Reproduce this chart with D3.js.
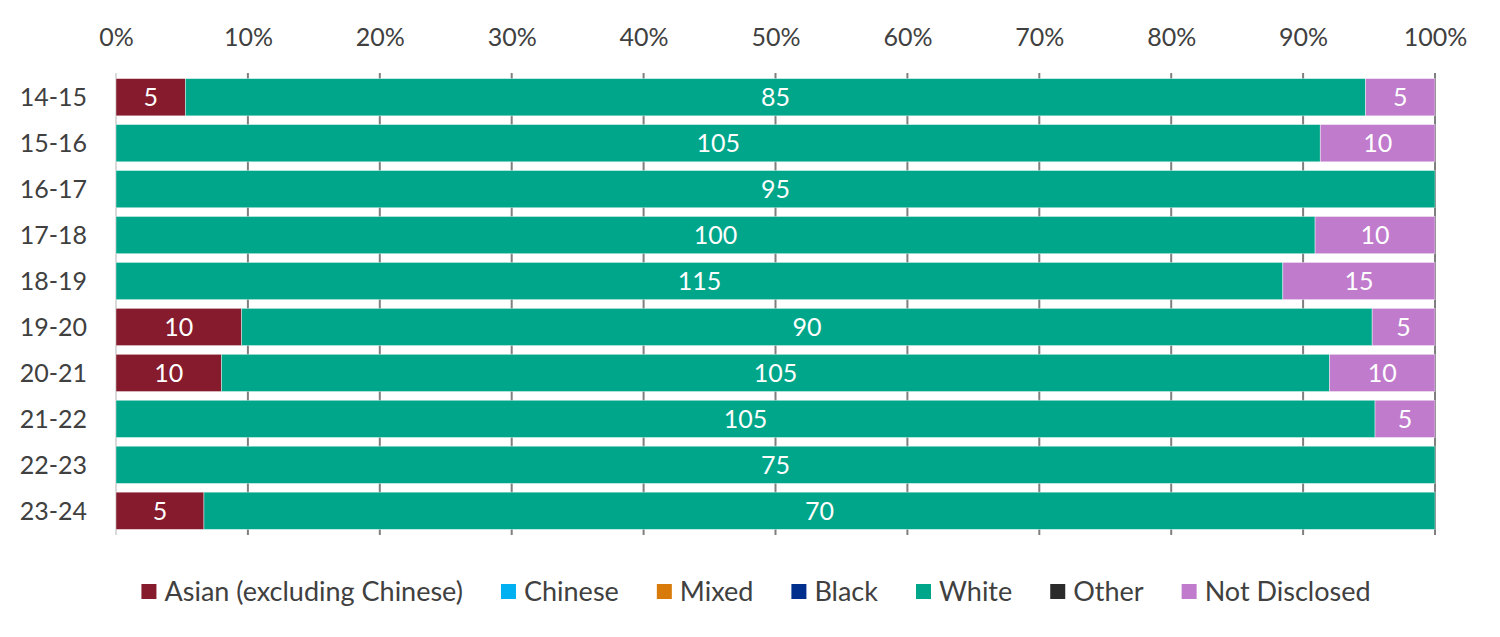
<!DOCTYPE html>
<html>
<head>
<meta charset="utf-8">
<script src="https://cdn.jsdelivr.net/npm/d3@7"></script>
<style>
    html, body { margin: 0; padding: 0; background: #fff; }
    svg text { font-family: Lato, "Open Sans", sans-serif; }
</style>
</head>
<body>
<div id="chart"></div>
<script>
'use strict';

// ------------ DATA ---------------- //

const years         = ['14-15', '15-16', '16-17', '17-18', '18-19', '19-20', '20-21', '21-22', '22-23', '23-24'];
const asian         = [5, 0, 0, 0, 0, 10, 10, 0, 0, 5];
const chinese       = [0, 0, 0, 0, 0, 0, 0, 0, 0, 0];
const mixed         = [0, 0, 0, 0, 0, 0, 0, 0, 0, 0];
const black         = [0, 0, 0, 0, 0, 0, 0, 0, 0, 0];
const white         = [85, 105, 95, 100, 115, 90, 105, 105, 75, 70];
const other         = [0, 0, 0, 0, 0, 0, 0, 0, 0, 0];
const notDisclosed  = [5, 10, 0, 10, 15, 5, 10, 5, 0, 0];
const seriesNames   = ['Asian (excluding Chinese)', 'Chinese', 'Mixed', 'Black', 'White', 'Other', 'Not Disclosed'];
const seriesColors  = ['#861b2d', '#00b0f0', '#d97b0b', '#002f8e', '#00a68a', '#2b2b2b', '#c07bcc'];
const tickValues    = [0, 0.1, 0.2, 0.3, 0.4, 0.5, 0.6, 0.7, 0.8, 0.9, 1];

// ------------ DRAWING ---------------- //

const drawChart = () => {
    const width  = 1500;
    const height = 637;
    const margin = {top: 74, right: 65, bottom: 103, left: 116};
    const textColor = '#404040';

    const seriesValues = [asian, chinese, mixed, black, white, other, notDisclosed];
    const rows = years.map((year, i) => {
        const row = {year};
        seriesNames.forEach((name, s) => row[name] = seriesValues[s][i]);
        return row;
    });

    const stacked = d3.stack()
        .keys(seriesNames)
        .offset(d3.stackOffsetExpand)(rows);

    const x = d3.scaleLinear()
        .domain([0, 1])
        .range([margin.left, width - margin.right]);

    const y = d3.scaleBand()
        .domain(years)
        .range([margin.top, height - margin.bottom])
        .paddingInner(0.19)
        .paddingOuter(0.1);

    const svg = d3.select('#chart')
        .append('svg')
        .attr('width', width)
        .attr('height', height);

    // gridlines
    svg.append('g')
        .selectAll('line')
        .data(tickValues)
        .join('line')
        .attr('x1', d => x(d))
        .attr('x2', d => x(d))
        .attr('y1', margin.top - 1)
        .attr('y2', height - margin.bottom + 1)
        .attr('stroke', d => d === 0 ? '#d9d9d9' : '#7f7f7f')
        .attr('stroke-width', 2);

    // top axis labels
    const axis = svg.append('g')
        .attr('transform', `translate(0,${margin.top})`)
        .call(d3.axisTop(x).tickValues(tickValues).tickFormat(d3.format('.0%')).tickSize(0).tickPadding(28));
    axis.select('.domain').remove();
    axis.selectAll('text')
        .attr('font-size', 25)
        .attr('fill', textColor)
        .style('font-family', 'Lato, "Open Sans", sans-serif');

    // category labels
    svg.append('g')
        .selectAll('text')
        .data(years)
        .join('text')
        .attr('x', margin.left - 29)
        .attr('y', d => y(d) + y.bandwidth() / 2)
        .attr('dy', '0.35em')
        .attr('text-anchor', 'end')
        .attr('font-size', 25)
        .attr('fill', textColor)
        .text(d => d);

    // bars
    const layers = svg.append('g')
        .selectAll('g')
        .data(stacked)
        .join('g')
        .attr('fill', (d, i) => seriesColors[i]);

    layers.selectAll('rect')
        .data(d => d)
        .join('rect')
        .attr('x', d => x(d[0]))
        .attr('y', d => y(d.data.year))
        .attr('width', d => Math.max(0, x(d[1]) - x(d[0])))
        .attr('height', y.bandwidth())
        .attr('stroke', '#ffffff')
        .attr('stroke-opacity', 0.5)
        .attr('stroke-width', 0.8);

    // value labels
    layers.selectAll('text')
        .data(d => d.map(v => ({v, key: d.key})).filter(o => o.v.data[o.key] > 0))
        .join('text')
        .attr('x', o => (x(o.v[0]) + x(o.v[1])) / 2)
        .attr('y', o => y(o.v.data.year) + y.bandwidth() / 2)
        .attr('dy', '0.36em')
        .attr('text-anchor', 'middle')
        .attr('font-size', 25)
        .attr('fill', '#ffffff')
        .text(o => o.v.data[o.key]);

    // legend
    const legend = svg.append('g')
        .attr('transform', `translate(0,${592})`);

    const items = legend.selectAll('g')
        .data(seriesNames)
        .join('g');

    items.append('rect')
        .attr('width', 15)
        .attr('height', 15)
        .attr('y', -8)
        .attr('fill', (d, i) => seriesColors[i]);

    items.append('text')
        .attr('x', 23)
        .attr('dy', '0.35em')
        .attr('font-size', 27)
        .attr('fill', textColor)
        .text(d => d);

    const gap = 38;
    const widths = items.nodes().map(node => 23 + node.querySelector('text').getComputedTextLength());
    const total = d3.sum(widths) + gap * (widths.length - 1);
    let cursor = 756 - total / 2;
    items.attr('transform', (d, i) => {
        const pos = cursor;
        cursor += widths[i] + gap;
        return `translate(${pos},0)`;
    });
};

document.addEventListener('DOMContentLoaded', drawChart);
</script>
</body>
</html>
